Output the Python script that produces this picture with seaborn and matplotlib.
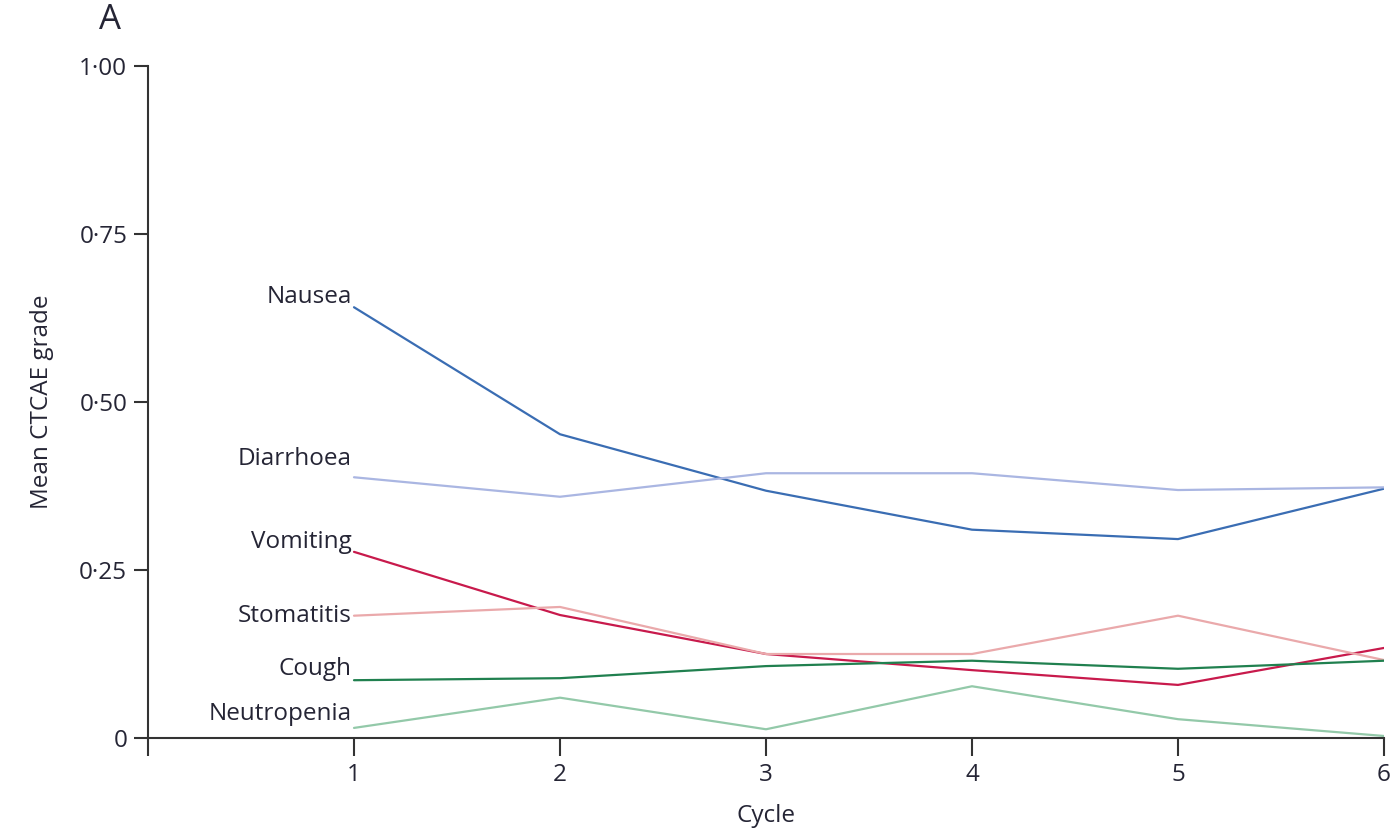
import matplotlib
matplotlib.use("Agg")
import matplotlib.pyplot as plt
import seaborn as sns
import pandas as pd

cycles = [1, 2, 3, 4, 5, 6]
nausea = [0.641, 0.452, 0.368, 0.310, 0.296, 0.371]
diarrhoea = [0.388, 0.359, 0.394, 0.394, 0.369, 0.373]
vomiting = [0.277, 0.183, 0.125, 0.101, 0.079, 0.134]
stomatitis = [0.182, 0.195, 0.125, 0.125, 0.182, 0.116]
cough = [0.086, 0.089, 0.107, 0.115, 0.103, 0.115]
neutropenia = [0.015, 0.060, 0.013, 0.077, 0.028, 0.003]

series_names = ["Nausea", "Diarrhoea", "Vomiting", "Stomatitis", "Cough", "Neutropenia"]
series_vals = [nausea, diarrhoea, vomiting, stomatitis, cough, neutropenia]
colors = ["#3a6db3", "#aab6e2", "#c81a4c", "#eaa9ab", "#20804f", "#93c9a9"]
label_y = [0.656, 0.415, 0.292, 0.182, 0.102, 0.036]

ytick_vals = [0, 0.25, 0.5, 0.75, 1.0]
ytick_labels = ["0", "0·25", "0·50", "0·75", "1·00"]
xtick_vals = [0, 1, 2, 3, 4, 5, 6]
xtick_labels = ["", "1", "2", "3", "4", "5", "6"]

rows = []
for name, vals in zip(series_names, series_vals):
    for c, v in zip(cycles, vals):
        rows.append({"Cycle": c, "value": v, "series": name})
df = pd.DataFrame(rows)

sns.set_style("ticks")
plt.rcParams["font.family"] = ["Open Sans", "DejaVu Sans"]
text_color = "#252535"
fs = 17.5

fig = plt.figure(figsize=(13.93, 8.34), dpi=100)
ax = fig.add_axes([148 / 1393, 1 - 738 / 834, (1384 - 148) / 1393, (738 - 66) / 834])

sns.lineplot(data=df, x="Cycle", y="value", hue="series", hue_order=series_names,
             palette=dict(zip(series_names, colors)), linewidth=1.6, ax=ax, legend=False)

for name, ly, col in zip(series_names, label_y, colors):
    ax.text(0.99, ly, name, ha="right", va="center", fontsize=fs, color=text_color)

ax.set_xlim(0, 6)
ax.set_ylim(0, 1)
ax.set_yticks(ytick_vals)
ax.set_yticklabels(ytick_labels)
ax.set_xticks(xtick_vals)
ax.set_xticklabels(xtick_labels)
ax.tick_params(axis="both", labelsize=fs, colors="#333333", labelcolor=text_color,
               width=1.5, direction="out")
ax.tick_params(axis="y", length=10, pad=5)
ax.tick_params(axis="x", length=13, pad=5)
for s in ["top", "right"]:
    ax.spines[s].set_visible(False)
for s in ["left", "bottom"]:
    ax.spines[s].set_linewidth(1.5)
    ax.spines[s].set_color("#333333")

ax.set_xlabel("Cycle", fontsize=fs, color=text_color, labelpad=12)
ax.set_ylabel("Mean CTCAE grade", fontsize=fs, color=text_color, labelpad=18)
fig.text(110 / 1393, 1 - 20 / 834, "A", fontsize=25, color=text_color, ha="center", va="center")

fig.savefig("out.png", dpi=100)
